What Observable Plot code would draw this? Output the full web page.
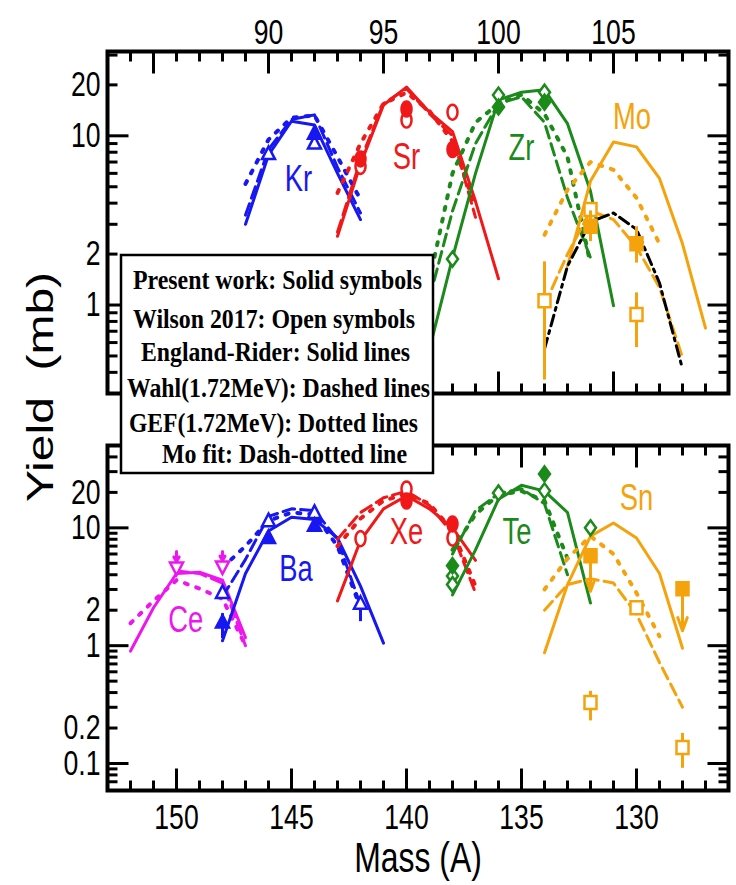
<!DOCTYPE html>
<html><head><meta charset="utf-8">
<script src="https://cdn.jsdelivr.net/npm/d3@7"></script>
<script src="https://cdn.jsdelivr.net/npm/@observablehq/plot@0.6"></script>
<style>
body{margin:0;background:#fff;}
#wrap{position:relative;width:736px;height:885px;overflow:hidden;background:#fff;}
#wrap svg{position:absolute;left:0;}
</style></head><body><div id="wrap"></div>
<script>
// ---------------- DATA (mass number A, yield in mb) ----------------
// Top panel: light fragments
const massKr = [89, 90, 91, 92, 93, 94];
const krSolid = [3.0, 7.7, 12.2, 11.6, 6.0, 3.2];
const krDashed = [3.4, 8.3, 12.5, 13.3, 6.5, 3.5];
const krDotted = [5.2, 9.5, 12.8, 13.2, 7.5, 4.2];
const krOpen = [[90, 7.8], [92, 9.0]];
const krFilled = [[92, 10.3]];

const massSr = [93, 94, 95, 96, 97, 98, 99, 100];
const srSolid = [2.55, 6.8, 15.2, 19.4, 13.8, 10.6, 4.1, 1.43];
const massSrModel = [93, 94, 95, 96, 97, 98, 99];
const srDashed = [2.7, 7.2, 15.5, 19.0, 13.5, 10.0, 3.3];
const srDotted = [4.6, 9.0, 15.5, 18.0, 14.0, 9.3, 3.8];
const srOpen = [[94, 6.6], [96, 12.4], [98, 13.8]];
const srFilled = [[94, 7.3], [96, 14.4], [98, 8.3]];

const massZr = [97, 98, 99, 100, 101, 102, 103, 104, 105];
const zrSolid = [0.55, 1.9, 6.0, 16.3, 18.1, 18.7, 11.8, 4.7, 0.99];
const massZrModel = [97, 98, 99, 100, 101, 102, 103, 104];
const zrDashed = [1.1, 3.6, 9.0, 15.5, 17.0, 12.0, 4.3, 1.9];
const zrDotted = [1.4, 6.0, 12.0, 15.5, 17.5, 13.5, 7.5, 1.75];
const zrOpen = [[98, 1.87], [100, 17.4], [102, 18.1]];
const zrFilled = [[100, 14.8], [102, 15.8]];

const massMo = [103, 104, 105, 106, 107, 108, 109];
const moSolid = [1.7, 5.4, 9.2, 8.6, 5.6, 2.3, 0.73];
const massMoModel = [102, 103, 104, 105, 106, 107, 108];
const moDashed = [1.0, 2.0, 3.6, 3.2, 2.2, 1.27, 0.49];
const moFit = [0.55, 1.7, 3.1, 3.5, 2.8, 1.35, 0.42];
const massMoGef = [102, 103, 104, 105, 106, 107];
const moDotted = [2.6, 4.8, 7.0, 6.3, 4.3, 2.3];
const moOpen = [[102, 1.06, 0.36, 1.8], [104, 3.67], [106, 0.88, 0.56, 1.18]];
const moFilled = [[104, 2.92, 2.37, 3.6], [106, 2.3, 1.77, 2.9]];

// Bottom panel: heavy fragments
const massCe = [152, 151, 150, 149, 148, 147];
const ceSolid = [0.9, 2.1, 4.1, 4.2, 3.6, 1.17];
const ceDotted = [1.55, 2.4, 3.6, 3.05, 2.5, 1.0];
const massCeWahl = [150, 149, 148, 147];
const ceDashed = [4.3, 4.1, 3.4, 1.0];
const ceLimits = [[150, 4.6, 6.3], [148, 4.7, 6.3]];   // open symbol + upper-limit arrow top

const massBa = [148, 147, 146, 145, 144, 143, 142, 141];
const baSolid = [1.1, 4.1, 9.4, 12.3, 11.8, 8.2, 3.2, 1.05];
const massBaModel = [148, 147, 146, 145, 144, 143, 142];
const baDashed = [2.6, 5.4, 12.5, 14.5, 14.0, 8.0, 2.2];
const baDotted = [4.6, 7.0, 11.5, 13.5, 13.0, 7.0, 2.1];
const baOpen = [[148, 2.8], [146, 11.4], [144, 13.4], [142, 2.27, 1.6, 2.6]];
const baFilled = [[148, 1.57, 1.15, 1.87], [146, 8.2], [144, 10.4]];

const massXe = [143, 142, 141, 140, 139, 138, 137];
const xeSolid = [2.4, 7.8, 14.5, 18.7, 14.5, 10.0, 5.3];
const xeDashed = [8.0, 13.5, 18.0, 20.5, 15.5, 9.0, 2.8];
const xeDotted = [7.0, 12.0, 17.0, 19.5, 16.0, 9.5, 3.2];
const xeOpen = [[142, 8.1], [140, 21.4], [138, 8.2]];
const xeFilled = [[140, 16.9], [138, 10.8]];

const massTe = [138, 137, 136, 135, 134, 133, 132];
const teSolid = [2.7, 6.5, 17.5, 23.0, 20.5, 13.5, 2.3];
const massTeModel = [138, 137, 136, 135, 134, 133];
const teDashed = [6.0, 14.0, 19.5, 21.5, 16.0, 4.0];
const teDotted = [6.5, 13.0, 19.0, 20.5, 17.0, 5.5];
const teOpen = [[138, 3.9], [138, 3.3], [136, 19.8], [134, 20.6], [132, 10.0]];
const teFilled = [[138, 4.77], [134, 28.7]];

const massSn = [134, 133, 132, 131, 130, 129, 128];
const snSolid = [0.87, 3.3, 8.5, 11.0, 8.2, 4.1, 0.95];
const snDashed = [2.0, 3.3, 3.7, 3.4, 1.85, 0.72, 0.30];
const massSnGef = [134, 133, 132, 131, 130, 129];
const snDotted = [3.0, 5.5, 8.5, 6.0, 2.8, 1.2];
const snOpen = [[132, 0.33, 0.23, 0.41], [130, 2.1, 1.85, 2.4], [128, 0.137, 0.091, 0.18]];
const snLimits = [[132, 5.8, 2.9], [128, 3.04, 1.34]];   // filled symbol value, arrow end

// element name labels (mass, yield)
const topLabels = [["Kr", 91.3, 5.5], ["Sr", 96.0, 7.4], ["Zr", 101.0, 8.4], ["Mo", 105.8, 12.8]];
const bottomLabels = [["Ce", 149.6, 1.63], ["Ba", 144.8, 4.43], ["Xe", 140.0, 9.1], ["Te", 135.2, 9.1], ["Sn", 130.0, 17.7]];

// tick values
const topXMajor = [85, 90, 95, 100, 105];
const topXLabels = [90, 95, 100, 105];
const topYLabels = [1, 2, 10, 20];
const botXMajor = [150, 145, 140, 135, 130];
const botYLabels = [0.1, 0.2, 1, 2, 10, 20];

const legendLines = [
  "Present work: Solid symbols",
  "Wilson 2017: Open symbols",
  "England-Rider: Solid lines",
  "Wahl(1.72MeV): Dashed lines",
  "GEF(1.72MeV): Dotted lines",
  "Mo fit: Dash-dotted line"
];

// ---------------- STYLE ----------------
const C = {Kr:"#1717f2", Sr:"#f01818", Zr:"#1b8a1b", Mo:"#f5a30d", Ce:"#ee16ee", Ba:"#1717f2", Xe:"#f01818", Te:"#1b8a1b", Sn:"#f5a30d", fit:"#000"};
const LS = {
  solid: {strokeWidth: 3},
  dashed: {strokeWidth: 3, strokeDasharray: "12,6"},
  dotted: {strokeWidth: 4, strokeDasharray: "3,9"},
  dashdot: {strokeWidth: 3, strokeDasharray: "11,5,3,5"}
};
const poly = pts => ({draw(ctx) { ctx.moveTo(pts[0][0], pts[0][1]); for (let i = 1; i < pts.length; i++) ctx.lineTo(pts[i][0], pts[i][1]); ctx.closePath(); }});
const SYM = {
  triUp: poly([[0, -7.5], [6.5, 5], [-6.5, 5]]),
  triDown: poly([[0, 7.5], [6.5, -5], [-6.5, -5]]),
  diamond: poly([[0, -7.5], [5.5, 0], [0, 7.5], [-5.5, 0]]),
  square: poly([[-6, -6.5], [6, -6.5], [6, 6.5], [-6, 6.5]]),
  ellipse: poly(d3.range(24).map(i => [5 * Math.cos(i * Math.PI / 12), 7.5 * Math.sin(i * Math.PI / 12)]))
};
const seg = (dx, dy) => ({draw(ctx) { ctx.moveTo(0, 0); ctx.lineTo(dx, dy); }});

function line(mass, vals, color, style) {
  return Plot.line(mass.map((A, i) => ({A, v: vals[i]})), {x: "A", y: "v", stroke: color, strokeLinejoin: "round", ...LS[style]});
}
function pts(list) { return list.map(d => ({A: d[0], v: d[1], lo: d[2], hi: d[3]})); }
function markers(list, color, sym, filled) {
  const data = pts(list);
  return [
    Plot.ruleX(data.filter(d => d.lo != null), {x: "A", y1: "lo", y2: "hi", stroke: color, strokeWidth: 3}),
    Plot.dot(data, {x: "A", y: "v", symbol: SYM[sym], fill: filled ? color : "white", stroke: color, strokeWidth: 2.5})
  ];
}
function frameTicks(xMinor, xMajor, yMinor, yMajor) {
  const t = (data, ch, anchor, s) => Plot.dot(data, {[ch]: d => d, frameAnchor: anchor, symbol: s, stroke: "black", strokeWidth: 3, fill: "none"});
  return [
    t(xMinor, "x", "top", seg(0, 10)), t(xMajor, "x", "top", seg(0, 22)),
    t(xMinor, "x", "bottom", seg(0, -10)), t(xMajor, "x", "bottom", seg(0, -22)),
    t(yMinor, "y", "left", seg(10, 0)), t(yMajor, "y", "left", seg(21, 0)),
    t(yMinor, "y", "right", seg(-10, 0)), t(yMajor, "y", "right", seg(-21, 0)),
    Plot.frame({stroke: "black", strokeWidth: 4})
  ];
}
function labelMarks(list) {
  return list.map(([t, A, v]) => Plot.text([{t, A, v}], {x: "A", y: "v", text: "t", fill: C[t], fontSize: 36, lineAnchor: "middle"}));
}
const baseStyle = {fontFamily: "'Liberation Sans', Arial, sans-serif", fontSize: "35px", background: "transparent", overflow: "visible", color: "black"};

// ---------------- TOP PANEL ----------------
const topMinorX = d3.range(84, 110).filter(d => d % 5 !== 0);
const topMinorY = [0.4, 0.5, 0.6, 0.7, 0.8, 0.9, 2, 3, 4, 5, 6, 7, 8, 9, 20, 30];
const topPlot = Plot.plot({
  width: 736, height: 400,
  marginLeft: 107, marginRight: 8, marginTop: 51, marginBottom: 7,
  x: {type: "linear", domain: [83, 110], label: null},
  y: {type: "log", domain: [0.3, 31.5], label: null},
  style: baseStyle,
  marks: [
    line(massKr, krSolid, C.Kr, "solid"), line(massKr, krDashed, C.Kr, "dashed"), line(massKr, krDotted, C.Kr, "dotted"),
    line(massSr, srSolid, C.Sr, "solid"), line(massSrModel, srDashed, C.Sr, "dashed"), line(massSrModel, srDotted, C.Sr, "dotted"),
    line(massZr, zrSolid, C.Zr, "solid"), line(massZrModel, zrDashed, C.Zr, "dashed"), line(massZrModel, zrDotted, C.Zr, "dotted"),
    line(massMo, moSolid, C.Mo, "solid"), line(massMoModel, moDashed, C.Mo, "dashed"), line(massMoGef, moDotted, C.Mo, "dotted"),
    line(massMoModel, moFit, C.fit, "dashdot"),
    ...markers(krOpen, C.Kr, "triUp", false), ...markers(krFilled, C.Kr, "triUp", true),
    ...markers(srOpen, C.Sr, "ellipse", false), ...markers(srFilled, C.Sr, "ellipse", true),
    ...markers(zrOpen, C.Zr, "diamond", false), ...markers(zrFilled, C.Zr, "diamond", true),
    ...markers(moOpen, C.Mo, "square", false), ...markers(moFilled, C.Mo, "square", true),
    ...labelMarks(topLabels),
    Plot.axisX({anchor: "top", ticks: topXLabels, tickSize: 0, tickPadding: 8, tickFormat: d => String(d), label: null}),
    Plot.axisY({anchor: "left", ticks: topYLabels, tickSize: 0, tickPadding: 7, tickFormat: d => String(d), label: null}),
    ...frameTicks(topMinorX, topXMajor, topMinorY, [1, 10])
  ]
});
topPlot.style.top = "0px";

// ---------------- BOTTOM PANEL ----------------
const botMinorX = d3.range(127, 153).filter(d => d % 5 !== 0);
const botMinorY = [0.07, 0.08, 0.09, 0.2, 0.3, 0.4, 0.5, 0.6, 0.7, 0.8, 0.9, 2, 3, 4, 5, 6, 7, 8, 9, 20, 30, 40];
const limitData = snLimits.map(d => ({A: d[0], v: d[1], end: d[2]}));
const ceData = ceLimits.map(d => ({A: d[0], v: d[1], top: d[2]}));
const botPlot = Plot.plot({
  width: 736, height: 485,
  marginLeft: 107, marginRight: 8, marginTop: 45, marginBottom: 95,
  x: {type: "linear", domain: [153, 126], label: null},
  y: {type: "log", domain: [0.059, 50], label: null},
  style: baseStyle,
  marks: [
    line(massCe, ceSolid, C.Ce, "solid"), line(massCeWahl, ceDashed, C.Ce, "dashed"), line(massCe, ceDotted, C.Ce, "dotted"),
    line(massBa, baSolid, C.Ba, "solid"), line(massBaModel, baDashed, C.Ba, "dashed"), line(massBaModel, baDotted, C.Ba, "dotted"),
    line(massXe, xeSolid, C.Xe, "solid"), line(massXe, xeDashed, C.Xe, "dashed"), line(massXe, xeDotted, C.Xe, "dotted"),
    line(massTe, teSolid, C.Te, "solid"), line(massTeModel, teDashed, C.Te, "dashed"), line(massTeModel, teDotted, C.Te, "dotted"),
    line(massSn, snSolid, C.Sn, "solid"), line(massSn, snDashed, C.Sn, "dashed"), line(massSnGef, snDotted, C.Sn, "dotted"),
    Plot.arrow(ceData, {x1: "A", x2: "A", y1: "top", y2: "v", stroke: C.Ce, strokeWidth: 3, headLength: 7, insetEnd: 6}),
    Plot.dot(ceData, {x: "A", y: "v", symbol: SYM.triDown, fill: "white", stroke: C.Ce, strokeWidth: 2.5}),
    ...markers(baOpen, C.Ba, "triUp", false), ...markers(baFilled, C.Ba, "triUp", true),
    ...markers(xeOpen, C.Xe, "ellipse", false), ...markers(xeFilled, C.Xe, "ellipse", true),
    ...markers(teOpen, C.Te, "diamond", false), ...markers(teFilled, C.Te, "diamond", true),
    ...markers(snOpen, C.Sn, "square", false),
    Plot.arrow(limitData, {x1: "A", x2: "A", y1: "v", y2: "end", stroke: C.Sn, strokeWidth: 3, headLength: 14, headAngle: 40}),
    Plot.dot(limitData, {x: "A", y: "v", symbol: SYM.square, fill: C.Sn, stroke: C.Sn, strokeWidth: 2.5}),
    ...labelMarks(bottomLabels),
    Plot.axisX({anchor: "bottom", ticks: botXMajor, tickSize: 0, tickPadding: 14, tickFormat: d => String(d), label: null}),
    Plot.axisY({anchor: "left", ticks: botYLabels, tickSize: 0, tickPadding: 7, tickFormat: d => String(d), label: null}),
    Plot.text(["Mass (A)"], {frameAnchor: "bottom", dy: 68, text: d => d, fontSize: 42, lineAnchor: "middle", fill: "black", ariaLabel: "mass label"}),
    ...frameTicks(botMinorX, botXMajor, botMinorY, [0.1, 1, 10])
  ]
});
botPlot.style.top = "400px";

const wrap = document.getElementById("wrap");
wrap.appendChild(topPlot);
wrap.appendChild(botPlot);

// ---------------- OVERLAY: y title + legend box ----------------
const NS = "http://www.w3.org/2000/svg";
const ov = document.createElementNS(NS, "svg");
ov.setAttribute("width", 736); ov.setAttribute("height", 885);
ov.style.top = "0px";
const yt = document.createElementNS(NS, "text");
yt.setAttribute("transform", "translate(53,387) scale(0.78,1) rotate(-90)");
yt.setAttribute("text-anchor", "middle");
yt.setAttribute("font-family", "'Liberation Sans', Arial, sans-serif");
yt.setAttribute("font-size", "48");
yt.style.whiteSpace = "pre";
yt.textContent = "Yield  (mb)";
ov.appendChild(yt);
const box = document.createElementNS(NS, "rect");
box.setAttribute("x", 121); box.setAttribute("y", 255); box.setAttribute("width", 312); box.setAttribute("height", 218);
box.setAttribute("fill", "white"); box.setAttribute("stroke", "black"); box.setAttribute("stroke-width", 2.5);
ov.appendChild(box);
const legPos = [[133, 289, 289], [133, 328, 282], [141, 361, 269], [127, 397, 303], [129, 432, 289], [162, 463, 245]];
legendLines.forEach((s, i) => {
  const t = document.createElementNS(NS, "text");
  t.setAttribute("x", legPos[i][0]); t.setAttribute("y", legPos[i][1]);
  t.setAttribute("textLength", legPos[i][2]); t.setAttribute("lengthAdjust", "spacingAndGlyphs");
  t.setAttribute("font-family", "'Liberation Serif', 'Times New Roman', serif");
  t.setAttribute("font-weight", "bold"); t.setAttribute("font-size", "28");
  t.textContent = s;
  ov.appendChild(t);
});
wrap.appendChild(ov);

// horizontally condensed lettering, as in the original figure
function squeeze(svg) {
  svg.querySelectorAll("text").forEach(t => {
    const g = t.closest("g");
    const f = g && g.getAttribute("aria-label") === "mass label" ? 0.84 : 0.76;
    const L = t.getComputedTextLength();
    if (L > 0) { t.setAttribute("textLength", (L * f).toFixed(1)); t.setAttribute("lengthAdjust", "spacingAndGlyphs"); }
  });
}
squeeze(topPlot); squeeze(botPlot);
</script></body></html>
